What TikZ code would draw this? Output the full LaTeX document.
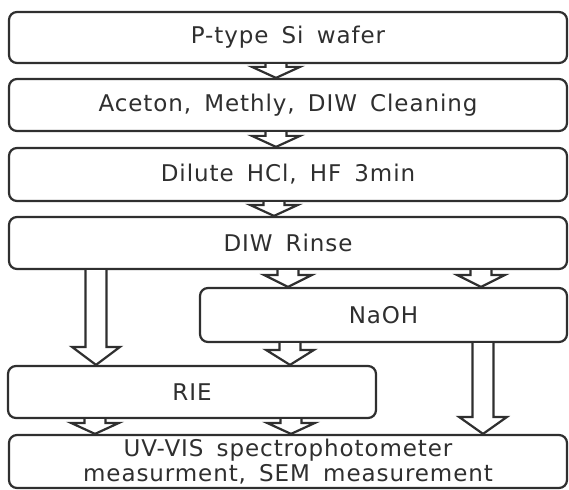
\documentclass[tikz,border=0pt]{standalone}
\usepackage{fontspec}
\setmainfont[LetterSpace=4, WordSpace=1.6]{DejaVu Sans}
\usepackage{xcolor}
\usepackage{tikz}
\usetikzlibrary{calc}

\definecolor{linegray}{HTML}{2F2F2F}

\begin{document}
\begin{tikzpicture}[x=1pt, y=-1pt,
  box/.style={draw=linegray, line width=2.2pt, rounded corners=8pt, fill=white, align=center,
    inner sep=0pt, text=linegray, font=\fontsize{23}{25.5}\selectfont},
  blockarr/.style={draw=linegray, line width=2.2pt, fill=white, line join=miter,
    to path={let \p1=(\tikztostart), \p2=(\tikztotarget) in
      (\x1-10.5pt,\y1) -- (\x1-10.5pt,\y2+#1) -- (\x1-24pt,\y2+#1) -- (\x1,\y2)
      -- (\x1+24pt,\y2+#1) -- (\x1+10.5pt,\y2+#1) -- (\x1+10.5pt,\y1)}},
  blockarr/.default=11pt
]
\useasboundingbox (0,0) rectangle (569,489);
% process steps
\node[box, minimum width=558, minimum height=51] (wafer) at (288,37.5) {P-type Si wafer};
\node[box, minimum width=558, minimum height=52] (clean) at (288,105) {Aceton, Methly, DIW Cleaning};
\node[box, minimum width=558, minimum height=53] (hf) at (288,174.5) {Dilute HCl, HF 3min};
\node[box, minimum width=558, minimum height=52] (rinse) at (288,243) {DIW Rinse};
\node[box, minimum width=367, minimum height=54] (naoh) at (383.5,315) {NaOH};
\node[box, minimum width=368, minimum height=52] (rie) at (192,392) {RIE};
\node[box, minimum width=558, minimum height=53] (meas) at (288,461.5) {UV-VIS spectrophotometer\\measurment, SEM measurement};
% hollow arrows
\draw[blockarr] ($(wafer.south)+(-12,0)$) to (clean.north);
\draw[blockarr] ($(clean.south)+(-12,0)$) to (hf.north);
\draw[blockarr] ($(hf.south)+(-14,0)$) to (rinse.north);
\draw[blockarr=12pt] (rinse.south) to (naoh.north);
\draw[blockarr=12pt] ($(rinse.south)+(193,0)$) to (naoh.north);
\draw[blockarr=18pt] ($(rinse.south)+(-192,0)$) to (rie.north);
\draw[blockarr=15pt] ($(naoh.south)+(-93.5,0)$) to (rie.north);
\draw[blockarr=17pt] ($(naoh.south)+(99.5,0)$) to (meas.north);
\draw[blockarr] ($(rie.south)+(-97,0)$) to (meas.north);
\draw[blockarr] ($(rie.south)+(99,0)$) to (meas.north);
\end{tikzpicture}
\end{document}
